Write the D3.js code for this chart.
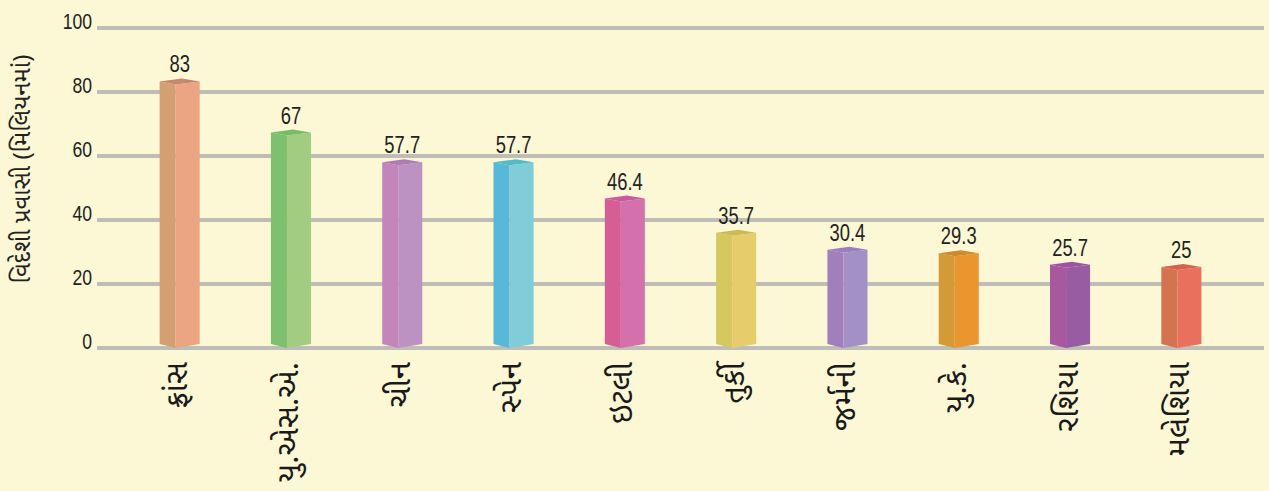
<!DOCTYPE html>
<html>
<head>
<meta charset="utf-8">
<script src="https://cdn.jsdelivr.net/npm/d3@7"></script>
<style>
  html, body { margin: 0; padding: 0; background: #FCF8D6; }
  svg { display: block; }
</style>
</head>
<body>
<svg id="chart" width="1269" height="491"></svg>
<script>
// Foreign tourist arrivals (millions) by country
const countries = ["ફ્રાંસ", "યુ.એસ.એ.", "ચીન", "સ્પેન", "ઇટલી", "તુર્કી", "જર્મની", "યુ.કે.", "રશિયા", "મલેશિયા"];
const arrivals = [83, 67, 57.7, 57.7, 46.4, 35.7, 30.4, 29.3, 25.7, 25];
const valueLabels = ["83", "67", "57.7", "57.7", "46.4", "35.7", "30.4", "29.3", "25.7", "25"];
const yTicks = [0, 20, 40, 60, 80, 100];
const yTitle = "વિદેશી પ્રવાસી (મિલિયનમાં)";

// face colours per bar: [shaded left face, lit right face, top]
const leftColors  = ["#D4A072", "#7DC070", "#C385BA", "#58B8D8", "#D55E94", "#D4C85E", "#A080BC", "#D49A35", "#A8589E", "#D4734F"];
const rightColors = ["#EBA582", "#A2CD80", "#BC92C2", "#80CCD8", "#D471AC", "#E6CC6A", "#A391C6", "#E9962E", "#975CA2", "#E9705C"];
const topColors   = ["#C8876A", "#76BE66", "#B07AB8", "#50BCC8", "#CB5AA0", "#CDBA55", "#9A7EC2", "#CF8A2E", "#9E52A0", "#D4624E"];

const numFont = "'Liberation Sans', Arial, sans-serif";
const gujFont = "'Noto Sans Gujarati', 'Lohit Gujarati', 'Shruti', 'Noto Sans', sans-serif";
const narrow = "scale(0.8,1)"; // condensed look for the figures

const svg = d3.select("#chart");

const x = d3.scaleBand().domain(countries).range([124, 1237]).paddingInner(0.64).paddingOuter(0.32);
const y = d3.scaleLinear().domain([0, 100]).range([348, 28]);

// horizontal gridlines with tick numbers sitting on them
const grid = svg.append("g");
grid.selectAll("line").data(yTicks).join("line")
  .attr("x1", 97).attr("x2", 1264)
  .attr("y1", d => y(d)).attr("y2", d => y(d))
  .attr("stroke", "#BEBDB6").attr("stroke-width", 4);

const yAxis = d3.axisLeft(y).tickValues(yTicks).tickSize(0).tickPadding(0);
const axisG = svg.append("g").attr("transform", "translate(92,0)").call(yAxis);
axisG.select(".domain").remove();
axisG.selectAll("text")
  .attr("dy", "0")
  .attr("x", 0)
  .attr("transform", narrow)
  .attr("fill", "#222")
  .style("font-family", numFont)
  .style("font-size", "22px");

// y-axis title
svg.append("text")
  .attr("transform", "translate(24,169) rotate(-90)")
  .attr("text-anchor", "middle")
  .attr("dominant-baseline", "central")
  .attr("fill", "#222")
  .style("font-family", gujFont)
  .style("font-size", "24px")
  .text(yTitle);

// pseudo-3D bars: two vertical faces plus a top cap
const data = countries.map((c, i) => ({ c, v: arrivals[i], label: valueLabels[i], i }));
const bars = svg.append("g").selectAll("g").data(data).join("g");
const base = y(0);

bars.each(function(d) {
  const g = d3.select(this);
  const x0 = x(d.c), w = x.bandwidth(), x1 = x0 + w, xm = x0 + w * 0.4;
  const t = y(d.v);
  g.append("polygon")
    .attr("points", [[x0, t - 1], [xm, t + 2], [xm, base], [x0, base - 4]].join(" "))
    .attr("fill", leftColors[d.i]);
  g.append("polygon")
    .attr("points", [[xm, t + 2], [x1, t - 1], [x1, base - 4], [xm, base]].join(" "))
    .attr("fill", rightColors[d.i]);
  g.append("polygon")
    .attr("points", [[x0, t - 1], [x0 + w * 0.55, t - 4], [x1, t - 1], [xm, t + 2]].join(" "))
    .attr("fill", topColors[d.i]);
  g.append("text")
    .attr("transform", `translate(${x0 + w / 2},${t - 10}) ${narrow}`)
    .attr("text-anchor", "middle")
    .attr("fill", "#222")
    .style("font-family", numFont)
    .style("font-size", "23px")
    .text(d.label);
});

// rotated category labels hanging below the baseline
svg.append("g").selectAll("text").data(data).join("text")
  .attr("transform", d => `translate(${x(d.c) + x.bandwidth() / 2},362) rotate(-90)`)
  .attr("text-anchor", "end")
  .attr("dominant-baseline", "central")
  .attr("fill", "#1a1a1a")
  .style("font-family", gujFont)
  .style("font-size", "31px")
  .text(d => d.c);
</script>
</body>
</html>
